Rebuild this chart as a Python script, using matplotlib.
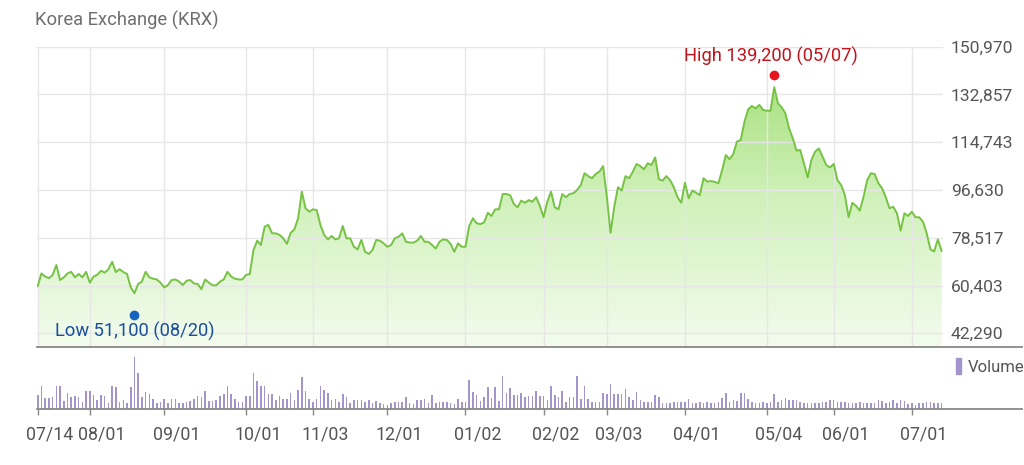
import numpy as np
import pandas as pd
import matplotlib
matplotlib.use("Agg")
import matplotlib.pyplot as plt
import matplotlib.transforms as mtransforms
from matplotlib.patches import Patch, Polygon
from matplotlib.colors import LinearSegmentedColormap

plt.rcParams['font.family'] = ['Roboto', 'DejaVu Sans']

title = "Korea Exchange (KRX)"
start_date = "2025-07-14"
end_date = "2026-07-13"
# KRX closing days in the period
holidays = ["2025-08-15", "2025-10-03", "2025-10-06", "2025-10-07", "2025-10-08",
            "2025-10-09", "2025-12-25", "2025-12-31", "2026-01-01", "2026-02-16",
            "2026-02-17", "2026-02-18", "2026-03-02", "2026-05-01", "2026-05-05",
            "2026-05-25", "2026-06-03"]

# daily close (KRW)
close = [
    60200, 65000, 63800, 63200, 64400, 68200, 62500, 63500, 65000, 65600,
    63500, 64800, 63500, 65600, 61500, 63800, 64500, 66000, 65300, 66600,
    69400, 65500, 66600, 65500, 64800, 59700, 57500, 61000, 61900, 65600,
    63500, 63000, 62700, 61500, 59700, 60600, 62500, 62700, 61900, 60600,
    62200, 62500, 61200, 61000, 59000, 62700, 61500, 60500, 60500, 61900,
    62700, 65600, 63800, 63000, 62700, 62700, 64400, 64800, 73900, 77400,
    75800, 82700, 83400, 80200, 80200, 79600, 78300, 76200, 80400, 81700,
    85900, 96000, 89700, 88400, 89300, 89000, 83400, 79600, 77900, 79200,
    77900, 78300, 83000, 78300, 78300, 75100, 74100, 77700, 73200, 72400,
    73900, 77700, 77400, 76400, 75100, 75800, 78300, 78900, 80200, 77000,
    76700, 76700, 77400, 79200, 77000, 77000, 75800, 74400, 77000, 77900,
    77700, 76200, 73200, 76400, 75100, 75100, 83000, 85900, 84000, 83700,
    84300, 88000, 86800, 89300, 89300, 95100, 95100, 94700, 91300, 90100,
    92600, 91800, 92800, 92200, 93900, 90600, 86300, 92200, 96000, 90100,
    89300, 95100, 93900, 95100, 95400, 96600, 98500, 103000, 101900, 101100,
    102700, 103600, 105700, 94100, 80400, 90300, 97700, 96400, 101900, 101100,
    103600, 106500, 105700, 104500, 106800, 106100, 109000, 100700, 100200, 101900,
    100400, 97700, 93900, 91800, 99400, 93500, 96400, 95600, 94700, 101100,
    99800, 100000, 99700, 99200, 104200, 109900, 108300, 110300, 115000, 115600,
    122500, 127200, 128500, 127600, 128900, 127000, 126700, 126700, 135600, 129500,
    128000, 125700, 120000, 116200, 111600, 111800, 106700, 101400, 108000, 111200,
    112400, 109300, 106100, 105200, 106500, 100400, 98500, 94700, 86300, 91800,
    90600, 88800, 93900, 100400, 103000, 102700, 99200, 97300, 93900, 89700,
    90300, 87800, 81200, 87800, 86800, 88400, 86300, 86300, 84600, 80200,
    74100, 73300, 77900, 73600,
]

# daily volume (thousand shares)
volume = [
    430, 700, 330, 330, 360, 700, 700, 260, 480, 360,
    400, 380, 230, 560, 560, 430, 280, 430, 400, 180,
    700, 660, 230, 280, 200, 660, 1560, 1080, 360, 520,
    460, 300, 200, 230, 300, 180, 320, 320, 180, 180,
    230, 260, 300, 400, 360, 560, 260, 260, 280, 400,
    460, 700, 450, 300, 230, 230, 400, 400, 1080, 830,
    700, 700, 460, 460, 280, 400, 300, 300, 500, 280,
    580, 960, 560, 300, 220, 300, 700, 580, 500, 280,
    300, 230, 450, 360, 200, 280, 280, 280, 230, 280,
    200, 260, 180, 160, 130, 180, 220, 230, 230, 360,
    180, 160, 280, 280, 300, 180, 430, 200, 210, 220,
    220, 180, 160, 300, 230, 230, 860, 530, 430, 260,
    380, 660, 330, 660, 260, 1000, 480, 630, 430, 430,
    480, 360, 400, 400, 560, 400, 400, 280, 700, 430,
    380, 560, 230, 360, 360, 1000, 300, 700, 300, 230,
    230, 230, 500, 460, 740, 460, 460, 460, 600, 360,
    280, 530, 280, 210, 230, 230, 440, 380, 200, 180,
    180, 230, 230, 210, 210, 300, 180, 180, 230, 200,
    210, 180, 180, 230, 330, 480, 230, 280, 260, 480,
    480, 300, 210, 200, 180, 230, 200, 230, 450, 230,
    280, 350, 280, 280, 280, 230, 200, 200, 200, 200,
    200, 230, 230, 280, 280, 230, 230, 230, 200, 200,
    180, 230, 200, 200, 180, 200, 280, 250, 180, 230,
    280, 200, 280, 250, 160, 200, 130, 180, 200, 230,
    230, 200, 200, 200,
]

high_value = 139200
high_date = "2026-05-07"
low_value = 51100
low_date = "2025-08-20"
y_first_label = 42290
y_last_label = 150970

days = pd.bdate_range(start_date, end_date)
days = days[~days.isin(pd.to_datetime(holidays))][:len(close)]
x = np.arange(len(days))

month_key = days.year * 100 + days.month
tick_idx = [0] + [i for i in range(1, len(days)) if month_key[i] != month_key[i - 1]]
tick_labels = [days[i].strftime("%m/%d") for i in tick_idx]

hi_i = int(np.where(days == pd.Timestamp(high_date))[0][0])
lo_i = int(np.where(days == pd.Timestamp(low_date))[0][0])

W, H = 1024, 465
fig = plt.figure(figsize=(W / 100, H / 100), dpi=100)
ax = fig.add_axes([37 / W, (H - 347) / H, 905.7 / W, 300.3 / H])
vax = fig.add_axes([37 / W, (H - 409.3) / H, 985 / W, 62.3 / H])

green_line = '#76c243'
ylo, yhi = 37100, y_last_label

# gradient area under the line
verts = np.column_stack([np.r_[x[0], x, x[-1]], np.r_[ylo, close, ylo]])
poly = Polygon(verts, closed=True, facecolor='none', edgecolor='none')
ax.add_patch(poly)
cmap = LinearSegmentedColormap.from_list('fill', ['#f3fcee', '#d0f1ba', '#9edc6f'])
grad = np.linspace(0, 1, 256).reshape(-1, 1)
im = ax.imshow(grad, cmap=cmap, aspect='auto', origin='lower',
               extent=[x[0], x[-1], ylo, yhi], zorder=1)
im.set_clip_path(poly)

ax.plot(x, close, color=green_line, lw=1.4, zorder=3)

xmin, xmax = -0.2, len(close) - 0.7
ax.set_xlim(xmin, xmax)
ax.set_ylim(ylo, yhi)

yt = np.linspace(y_first_label, y_last_label, 7)
ax.set_yticks(yt)
ax.set_yticklabels([f"{v:,.0f}" for v in yt])
ax.yaxis.tick_right()
ax.set_xticks(tick_idx)
ax.set_xticklabels([])
ax.tick_params(axis='both', length=0)
ax.tick_params(axis='y', labelsize=12.6, labelcolor='#555555', pad=6)
ax.set_axisbelow(False)
ax.grid(color='#e6e6e6', lw=1.0, zorder=2)
for s in ax.spines.values():
    s.set_visible(False)

# high / low markers
up = mtransforms.ScaledTranslation(0, 3 / 100, fig.dpi_scale_trans)
down = mtransforms.ScaledTranslation(0, -5 / 100, fig.dpi_scale_trans)
ax.plot(hi_i, high_value, 'o', color='#e8141c', ms=6, zorder=5, clip_on=False,
        transform=ax.transData + up)
ax.plot(lo_i, low_value, 'o', color='#1565c0', ms=6, zorder=5, clip_on=False,
        transform=ax.transData + down)
ax.annotate(f"High {high_value:,} ({pd.Timestamp(high_date):%m/%d})",
            xy=(hi_i, high_value), xytext=(-3, 21), textcoords='offset pixels',
            ha='center', va='center', fontsize=13.2, color='#c0141c', zorder=6)
ax.annotate(f"Low {low_value:,} ({pd.Timestamp(low_date):%m/%d})",
            xy=(lo_i, low_value), xytext=(0, -21), textcoords='offset pixels',
            ha='center', va='center', fontsize=13.2, color='#1b4f9c', zorder=6)

# volume panel
vcol = '#a294cc'
vax.bar(x, volume, width=0.42, color=vcol, zorder=2)
vax.set_xlim(xmin, xmin + (xmax - xmin) * 985 / 905.7)
vax.set_ylim(0, max(volume) * 1.19)
vax.set_yticks([])
vax.set_xticks(tick_idx)
vax.set_xticklabels(tick_labels)
vax.tick_params(axis='x', length=4, width=1, color='#888888', labelsize=12.8,
                labelcolor='#555555', pad=8)
shift = mtransforms.ScaledTranslation(12 / 100, 0, fig.dpi_scale_trans)
for lab in vax.get_xticklabels():
    lab.set_transform(lab.get_transform() + shift)
for side in ['left', 'right']:
    vax.spines[side].set_visible(False)
for side in ['top', 'bottom']:
    vax.spines[side].set_color('#888888')
    vax.spines[side].set_linewidth(1.3)
vax.legend(handles=[Patch(color=vcol, label='Volume')], loc='upper right',
           frameon=False, handlelength=0.3, handleheight=1.1, handletextpad=0.4,
           fontsize=12, borderaxespad=0.0, borderpad=0.3, labelcolor='#555555',
           bbox_to_anchor=(1.008, 0.9))

fig.text(35 / W, 1 - 20 / H, title, fontsize=13.2, color='#6e6e6e',
         ha='left', va='center')

fig.savefig("out.png", dpi=100)
